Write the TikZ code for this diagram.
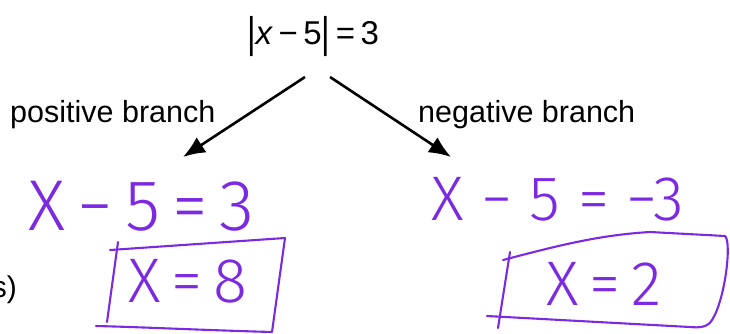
\documentclass[tikz,border=0pt]{standalone}
\usepackage{fontspec}
\usepackage{graphicx}
\setmainfont{Liberation Sans}
\newfontfamily\hand{Fira Sans}[UprightFont=* Light]
\usetikzlibrary{arrows.meta}
\definecolor{pen}{RGB}{124,42,226}
\tikzset{
  lbl/.style={inner sep=0pt, font=\fontsize{30.5}{36}\selectfont, anchor=base west},
  arr/.style={line width=2.6pt, -{Latex[length=22pt,width=18pt]}},
  hw/.style={inner sep=0pt, text=pen, anchor=base},
  penline/.style={draw=pen, line width=2.1pt, line cap=round, line join=round}
}
\newcommand{\tallbar}{\raisebox{-0.12em}{\scalebox{1}[1.3]{|}}}
\begin{document}
\begin{tikzpicture}[x=1pt,y=-1pt]
\useasboundingbox (0,0) rectangle (730,333);
% top equation
\node[inner sep=0pt, anchor=base, font=\fontsize{33}{38}\selectfont] (eq) at (313,44)
  {\tallbar\textit{x}\,−\,5\tallbar\,=\,3};
% branch labels
\node[lbl] (pos) at (10,122) {positive branch};
\node[lbl] (neg) at (418,122) {negative branch};
% arrows
\coordinate (ls) at (305,77);
\coordinate (lt) at (183,157);
\coordinate (rs) at (330,77);
\coordinate (rt) at (451,157);
\draw[arr] (ls) -- (lt);
\draw[arr] (rs) -- (rt);
% handwritten equations
\node[hw, font=\hand\fontsize{72}{80}\selectfont] (l1) at (142,230) {X\,−\,5\,=\,3};
\node[hw, font=\hand\fontsize{63}{70}\selectfont] (r1) at (558,220) {X\;−\;5\;=\;−3};
\node[hw, font=\hand\fontsize{63}{70}\selectfont] (l2) at (188,302) {X\,=\,8};
\node[hw, font=\hand\fontsize{63}{70}\selectfont] (r2) at (604,305) {X\,=\,2};
% boxes
\draw[penline] (110,250) -- (285,238) -- (272,332) .. controls (200,330) and (140,327) .. (96,326);
\draw[penline] (118,242) -- (107,322);
\draw[penline] (503,260) .. controls (560,245) and (600,235) .. (650,232) -- (725,236)
  .. controls (732,242) and (725,300) .. (712,320) .. controls (708,327) and (700,328) .. (690,327)
  -- (487,316);
\draw[penline] (510,252) -- (498,328);
% cut-off text at the left edge (cut in the reference too)
\node[inner sep=0pt, anchor=base east, font=\fontsize{30}{36}\selectfont] (cut) at (17,297) {s)};
\end{tikzpicture}
\end{document}
